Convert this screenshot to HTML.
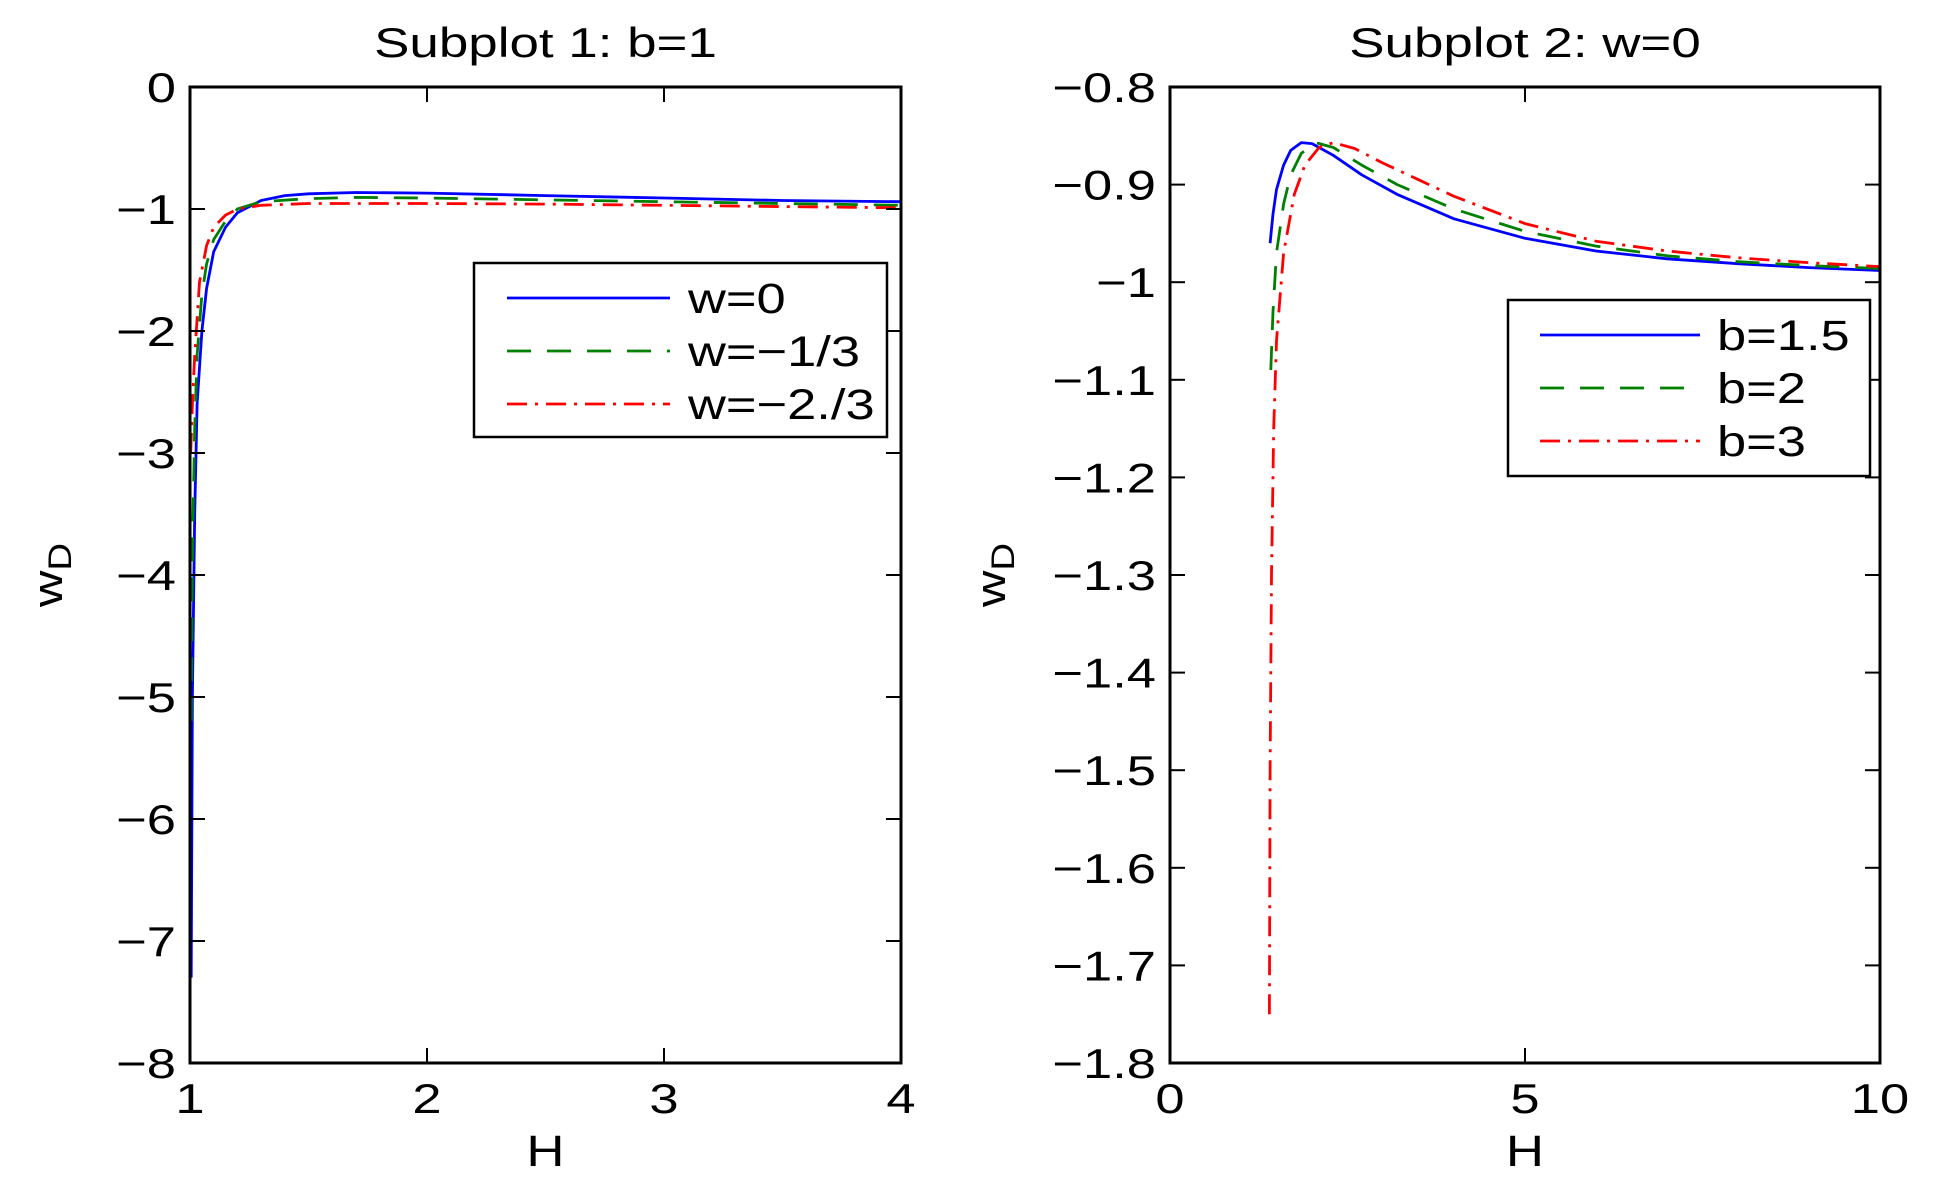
<!DOCTYPE html>
<html><head><meta charset="utf-8"><style>
html,body{margin:0;padding:0;background:#fff}
svg{display:block}
text{font-family:"Liberation Sans",sans-serif;fill:#000}
</style></head><body>
<svg id="c" width="1936" height="1192" viewBox="0 0 1936 1192"></svg>
<script>
// Subplot 1 data (b=1)
const s1Names = ["w=0","w=\u22121/3","w=\u22122./3"];
const s1BlueH = [1.005,1.01,1.02,1.03,1.05,1.07,1.1,1.15,1.2,1.3,1.4,1.5,1.7,2,2.5,3,3.5,4];
const s1BlueW = [-7.3,-5,-3.5,-2.6,-2.0,-1.65,-1.35,-1.15,-1.03,-0.93,-0.89,-0.875,-0.865,-0.87,-0.89,-0.91,-0.93,-0.94];
const s1GreenH = [1.005,1.01,1.02,1.03,1.05,1.07,1.1,1.15,1.2,1.3,1.5,1.7,2,2.5,3,3.5,4];
const s1GreenW = [-5.2,-3.8,-2.8,-2.2,-1.7,-1.45,-1.25,-1.1,-1.0,-0.94,-0.915,-0.905,-0.91,-0.925,-0.94,-0.955,-0.97];
const s1RedH = [1.003,1.01,1.02,1.04,1.07,1.1,1.15,1.2,1.3,1.5,2,2.5,3,3.5,4];
const s1RedW = [-3.0,-2.6,-2.2,-1.6,-1.3,-1.15,-1.05,-1.0,-0.97,-0.955,-0.955,-0.96,-0.97,-0.98,-0.99];
const s1XTicks = [1,2,3,4];
const s1YTicks = [0,-1,-2,-3,-4,-5,-6,-7,-8];
// Subplot 2 data (w=0)
const s2Names = ["b=1.5","b=2","b=3"];
const s2BlueH = [1.41,1.45,1.5,1.6,1.7,1.85,2.0,2.3,2.7,3.2,4,5,6,7,8,9,10];
const s2BlueW = [-0.96,-0.93,-0.905,-0.88,-0.865,-0.857,-0.858,-0.87,-0.89,-0.91,-0.935,-0.955,-0.968,-0.976,-0.981,-0.985,-0.988];
const s2GreenH = [1.42,1.45,1.5,1.6,1.7,1.85,2.05,2.3,2.7,3.2,4,5,6,7,8,9,10];
const s2GreenW = [-1.09,-1.03,-0.97,-0.92,-0.89,-0.868,-0.857,-0.862,-0.88,-0.9,-0.925,-0.948,-0.963,-0.973,-0.979,-0.983,-0.986];
const s2RedH = [1.4,1.41,1.43,1.46,1.5,1.6,1.75,1.9,2.1,2.3,2.6,3,3.5,4,5,6,7,8,9,10];
const s2RedW = [-1.75,-1.5,-1.3,-1.15,-1.06,-0.97,-0.91,-0.88,-0.862,-0.857,-0.863,-0.878,-0.895,-0.912,-0.94,-0.958,-0.968,-0.975,-0.98,-0.984];
const s2XTicks = [0,5,10];
const s2YTicks = [-0.8,-0.9,-1,-1.1,-1.2,-1.3,-1.4,-1.5,-1.6,-1.7,-1.8];

const NS="http://www.w3.org/2000/svg";
const svg=document.getElementById('c');
function mk(tag,attrs,parent){const e=document.createElementNS(NS,tag);for(const k in attrs)e.setAttribute(k,attrs[k]);(parent||svg).appendChild(e);return e;}
const styles=[
 {stroke:"#0000ff",dash:""},
 {stroke:"#008000",dash:"24 16"},
 {stroke:"#ff0000",dash:"20 8 3 8"}];
function fmt2(v){return (v<0?"\u2212":"")+String(Math.abs(v));}
function txt(parent,x,y,size,sx,anchor){
 return mk('text',{x:0,y:0,'font-size':size,'text-anchor':anchor,transform:`translate(${x},${y}) scale(${sx},1)`},parent);
}

function panel(cfg){
 const g=mk('g',{});
 
 
 const {x0,x1,y0,y1,xmin,xmax,ymin,ymax}=cfg;
 const sx=v=>x0+(v-xmin)/(xmax-xmin)*(x1-x0);
 const sy=v=>y1-(v-ymin)/(ymax-ymin)*(y1-y0);
 cfg.series.forEach((s,i)=>{
  const d=s.h.map((h,j)=>(j?'L':'M')+sx(h).toFixed(1)+','+sy(s.w[j]).toFixed(1)).join('');
  const p=mk('path',{d,fill:'none',stroke:styles[i].stroke,'stroke-width':2.8,'stroke-dasharray':styles[i].dash,'stroke-linejoin':'round'},g);
  
  
 });
 const box=mk('rect',{x:x0,y:y0,width:x1-x0,height:y1-y0,fill:'none',stroke:'#000','stroke-width':3},g);
 
 
 cfg.xt.forEach(v=>{const X=sx(v);
  mk('line',{x1:X,y1:y1,x2:X,y2:y1-15,stroke:'#000','stroke-width':2},g);
  mk('line',{x1:X,y1:y0,x2:X,y2:y0+15,stroke:'#000','stroke-width':2},g);
  const t=txt(g,X,y1+50,42,1.25,'middle');t.textContent=fmt2(v);
  
  
 });
 cfg.yt.forEach(v=>{const Y=sy(v);
  mk('line',{x1:x0,y1:Y,x2:x0+15,y2:Y,stroke:'#000','stroke-width':2},g);
  mk('line',{x1:x1,y1:Y,x2:x1-15,y2:Y,stroke:'#000','stroke-width':2},g);
  const t=txt(g,x0-14,Y+15,42,1.25,'end');t.textContent=cfg.yfmt(v);
  
  
 });
 const ti=txt(g,(x0+x1)/2,y0-30,42,1.26,'middle');ti.textContent=cfg.title;
 
 
 const xl=txt(g,(x0+x1)/2,y1+103,44,1.2,'middle');xl.textContent='H';
 
 
 const yl=mk('text',{x:0,y:0,'font-size':42,'text-anchor':'middle',transform:`translate(${cfg.ylx},${(y0+y1)/2}) rotate(-90) scale(1.2,1)`},g);
 yl.innerHTML='w<tspan font-size="32" dy="9">D</tspan>';
 
 
 const L=cfg.leg;
 const lg=mk('g',{},g);
 
 
 mk('rect',{x:L.x,y:L.y,width:L.w,height:L.h,fill:'#fff',stroke:'#000','stroke-width':2.5},lg);
 cfg.names.forEach((n,i)=>{const Y=L.y+L.r0+i*L.dy;
  const ln=mk('line',{x1:L.lx0,y1:Y,x2:L.lx1,y2:Y,stroke:styles[i].stroke,'stroke-width':2.8,'stroke-dasharray':styles[i].dash},lg);
  
  
  const t=txt(lg,L.tx,Y+15,43,1.22,'start');t.textContent=n;
  
  
 });
}
panel({name:'subplot-1',x0:190,x1:901,y0:87,y1:1063,xmin:1,xmax:4,ymin:-8,ymax:0,
 series:[{key:'w0',h:s1BlueH,w:s1BlueW},{key:'w-1-3',h:s1GreenH,w:s1GreenW},{key:'w-2-3',h:s1RedH,w:s1RedW}],
 xt:s1XTicks,yt:s1YTicks,yfmt:fmt2,title:'Subplot 1: b=1',ylx:62,names:s1Names,
 leg:{x:474,y:263,w:413,h:174,r0:35,dy:53,lx0:507,lx1:670,tx:688}});
panel({name:'subplot-2',x0:1170,x1:1880,y0:87,y1:1063,xmin:0,xmax:10,ymin:-1.8,ymax:-0.8,
 series:[{key:'b1-5',h:s2BlueH,w:s2BlueW},{key:'b2',h:s2GreenH,w:s2GreenW},{key:'b3',h:s2RedH,w:s2RedW}],
 xt:s2XTicks,yt:s2YTicks,yfmt:v=>fmt2(+v.toFixed(1)),title:'Subplot 2: w=0',ylx:1005,names:s2Names,
 leg:{x:1508,y:300,w:362,h:176,r0:35,dy:53,lx0:1540,lx1:1700,tx:1717}});
</script>
</body></html>
